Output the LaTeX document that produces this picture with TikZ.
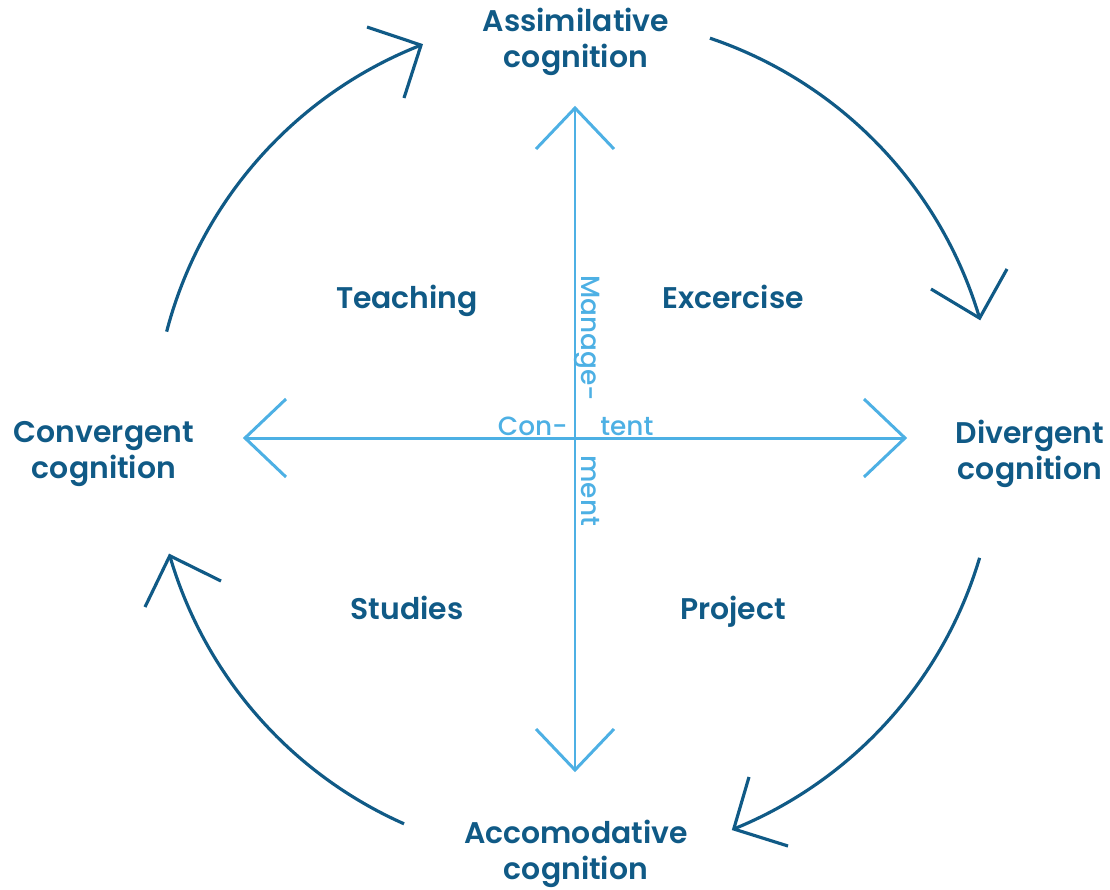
\documentclass[tikz,border=0pt]{standalone}
\usepackage{fontspec}
\setmainfont{Poppins}[BoldFont=* SemiBold]
\newfontfamily\medfont{Poppins Medium}
\definecolor{darkb}{HTML}{105A86}
\definecolor{lightb}{HTML}{4DB0E4}
\begin{document}
\begin{tikzpicture}[x=0.02cm,y=-0.02cm,
  axis/.style={draw=lightb,line width=1.7pt,line join=miter},
  cyc/.style={draw=darkb,line width=1.8pt,line join=miter},
  lab/.style={text=darkb,font=\fontsize{17}{20.5}\selectfont\bfseries,align=center,inner sep=0pt},
  alab/.style={text=lightb,font=\fontsize{15}{18}\selectfont\medfont,inner sep=0pt}]
\useasboundingbox (0,0) rectangle (1110,890);
\coordinate (c) at (575,438);
\coordinate (T) at (575,108);
\coordinate (B) at (575,770);
\coordinate (L) at (245,438);
\coordinate (R) at (905,438);
\draw[axis] (B) -- (T);
\draw[axis] (L) -- (R);
\draw[axis] (T) ++(-39,41) -- (T) -- ++(39,41);
\draw[axis] (B) ++(-39,-41) -- (B) -- ++(39,-41);
\draw[axis] (L) ++(41,-39) -- (L) -- ++(41,39);
\draw[axis] (R) ++(-41,-39) -- (R) -- ++(-41,39);
% cycle arcs
\draw[cyc] (c) ++(194.6:422) arc[start angle=194.6,end angle=248.6,radius=422] coordinate (t1);
\draw[cyc] (367,27) -- (t1) -- (404,98);
\draw[cyc] (c) ++(288.65:422) arc[start angle=288.65,end angle=343.5,radius=422] coordinate (t2);
\draw[cyc] (931,289) -- (t2) -- (1007,269);
\draw[cyc] (c) ++(16.5:422) arc[start angle=16.5,end angle=67.9,radius=422] coordinate (t3);
\draw[cyc] (749,777) -- (t3) -- (788,846);
\draw[cyc] (c) ++(113.9:422) arc[start angle=113.9,end angle=163.8,radius=422] coordinate (t4);
\draw[cyc] (145,607) -- (t4) -- (221,581);
% labels
\node[lab] (assim) at (576,42) {Assimilative\\cognition};
\node[lab] (diverg) at (1030,454) {Divergent\\cognition};
\node[lab] (accom) at (576,854) {Accomodative\\cognition};
\node[lab] (converg) at (104,454) {Convergent\\cognition};
\node[lab] (teach) at (407,301) {Teaching};
\node[lab] (exerc) at (733,297) {Excercise};
\node[lab] (stud) at (407,608) {Studies};
\node[lab] (proj) at (733,612) {Project};
\node[alab,anchor=base east] (con) at (568,435) {Con-};
\node[alab,anchor=base west] (tent) at (600,435) {tent};
\node[alab,anchor=base west,rotate=-90] (manage) at (581,275) {Manage-};
\node[alab,anchor=base west,rotate=-90] (ment) at (581,455) {ment};
\end{tikzpicture}
\end{document}
